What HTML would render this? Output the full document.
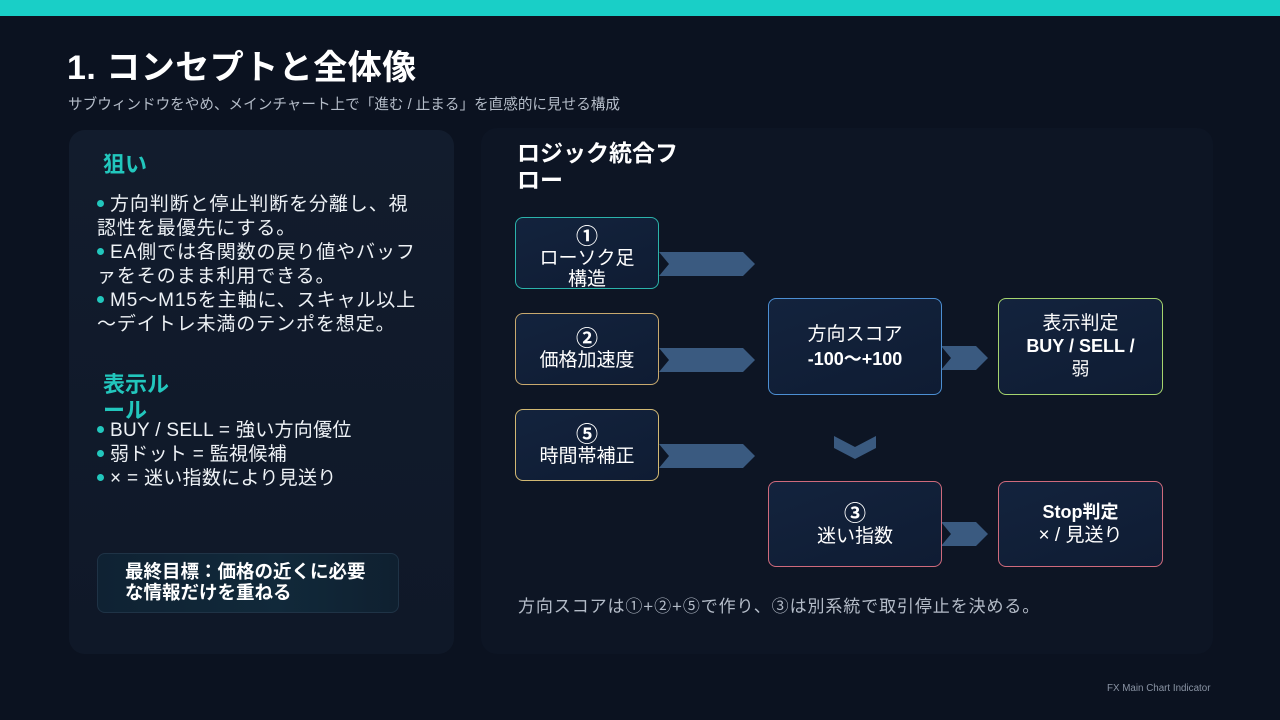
<!DOCTYPE html>
<html><head><meta charset="utf-8">
<style>
*{margin:0;padding:0;box-sizing:border-box}
html,body{width:1280px;height:720px;overflow:hidden;background:#0b1220}
body{position:relative;font-family:"Liberation Sans","Noto Sans CJK JP",sans-serif;color:#fff}
.abs{position:absolute}
.topbar{left:0;top:0;width:1280px;height:16px;background:#19cfc7}
.title{left:67px;top:40px;font-size:34px;font-weight:700;letter-spacing:0.5px;white-space:nowrap}
.sub{left:68px;top:93px;font-size:14.6px;color:#b4bcc8;white-space:nowrap}
.lp{left:69px;top:130px;width:385px;height:524px;border-radius:16px;background:linear-gradient(180deg,#121c2d,#0f1828)}
.rp{left:481px;top:128px;width:732px;height:526px;border-radius:16px;background:#0d1524}
.h{color:#22c7bd;font-weight:700;font-size:22px;line-height:26px}
.bl{font-size:19px;line-height:24px;color:#eef2f6;white-space:nowrap;letter-spacing:0.9px}
.dot{display:inline-block;width:7px;height:7px;border-radius:50%;background:#22c7bd;margin-right:6px;vertical-align:3px}
.goal{left:97px;top:553px;width:302px;height:60px;border-radius:8px;border:1px solid #1f3346;background:linear-gradient(90deg,#0f2233,#11293a 60%,#0f2030);font-size:18.5px;font-weight:700;line-height:21px;padding:7px 0 0 27px;white-space:nowrap}
.rt{left:517px;top:140px;font-size:23px;font-weight:700;line-height:27px}
.box{position:absolute;border-radius:8px;background:linear-gradient(160deg,#13233d,#0f1c33);display:flex;flex-direction:column;align-items:center;justify-content:center;text-align:center;font-size:19px;line-height:22px;white-space:nowrap}
.num{font-size:22px;line-height:22px;font-weight:700}
.b{font-weight:700;font-size:18px}
.cap{left:518px;top:592px;font-size:17px;color:#b4bcc8;white-space:nowrap;letter-spacing:0.9px}
.foot{left:1107px;top:683px;font-size:9.8px;color:#8a94a4;white-space:nowrap}
</style></head><body>
<div class="abs topbar"></div>
<div class="abs title">1. コンセプトと全体像</div>
<div class="abs sub">サブウィンドウをやめ、メインチャート上で「進む / 止まる」を直感的に見せる構成</div>

<div class="abs lp"></div>
<div class="abs rp"></div>

<div class="abs h" style="left:103px;top:152px">狙い</div>
<div class="abs bl" style="left:97px;top:193px">
<span class="dot"></span>方向判断と停止判断を分離し、視<br>認性を最優先にする。<br>
<span class="dot"></span>EA側では各関数の戻り値やバッフ<br>ァをそのまま利用できる。<br>
<span class="dot"></span>M5〜M15を主軸に、スキャル以上<br>〜デイトレ未満のテンポを想定。
</div>

<div class="abs h" style="left:103px;top:372px">表示ル<br>ール</div>
<div class="abs bl" style="left:97px;top:419px;letter-spacing:0.3px">
<span class="dot"></span>BUY / SELL = 強い方向優位<br>
<span class="dot"></span>弱ドット = 監視候補<br>
<span class="dot"></span>× = 迷い指数により見送り
</div>

<div class="abs goal">最終目標：価格の近くに必要<br>な情報だけを重ねる</div>

<div class="abs rt">ロジック統合フ<br>ロー</div>

<svg class="abs" style="left:0;top:0" width="1280" height="720">
<g fill="#3a5a80">
<polygon points="659,252 743,252 755,264 743,276 659,276 669,264"/>
<polygon points="659,348 743,348 755,360 743,372 659,372 669,360"/>
<polygon points="659,444 743,444 755,456 743,468 659,468 669,456"/>
<polygon points="941,346 976,346 988,358 976,370 941,370 951,358"/>
<polygon points="941,522 976,522 988,534 976,546 941,546 951,534"/>
<polygon points="834,436 855,447 876,436 876,448 855,459 834,448"/>
</g>
</svg>

<div class="box" style="left:515px;top:217px;width:144px;height:72px;border:1.5px solid #2bb3ab;padding-top:10px;line-height:21px">
<div class="num">①</div><div>ローソク足</div><div>構造</div></div>
<div class="box" style="left:515px;top:313px;width:144px;height:72px;border:1.5px solid #c8a96e;padding-top:2px">
<div class="num">②</div><div>価格加速度</div></div>
<div class="box" style="left:515px;top:409px;width:144px;height:72px;border:1.5px solid #d1b873;padding-top:2px">
<div class="num">⑤</div><div>時間帯補正</div></div>

<div class="box" style="left:768px;top:298px;width:174px;height:97px;border:1.5px solid #4c8fd3;line-height:24px">
<div>方向スコア</div><div class="b">-100〜+100</div></div>
<div class="box" style="left:998px;top:298px;width:165px;height:97px;border:1.5px solid #a5d46e;line-height:23px">
<div>表示判定</div><div class="b">BUY / SELL /</div><div style="font-size:18px">弱</div></div>

<div class="box" style="left:768px;top:481px;width:174px;height:86px;border:1.5px solid #cf6a7c;padding-top:2px;line-height:23px">
<div class="num">③</div><div>迷い指数</div></div>
<div class="box" style="left:998px;top:481px;width:165px;height:86px;border:1.5px solid #cf6a7c;line-height:23px">
<div class="b">Stop判定</div><div>× / 見送り</div></div>

<div class="abs cap">方向スコアは①+②+⑤で作り、③は別系統で取引停止を決める。</div>
<div class="abs foot">FX Main Chart Indicator</div>
</body></html>
